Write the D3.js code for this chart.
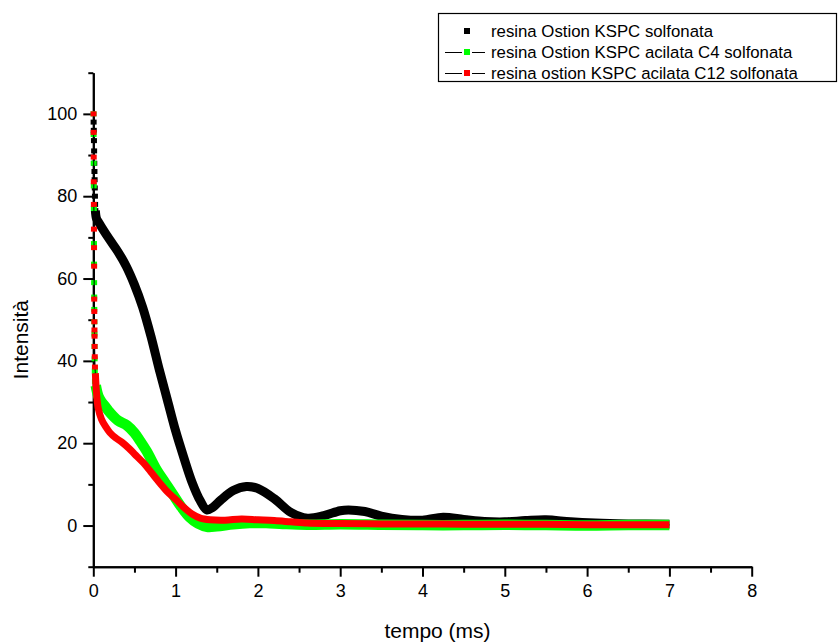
<!DOCTYPE html>
<html>
<head>
<meta charset="utf-8">
<script src="https://cdn.jsdelivr.net/npm/d3@7/dist/d3.min.js"></script>
<style>
  html, body { margin: 0; padding: 0; background: #fff; }
  svg { display: block; font-family: "Liberation Sans", Arial, sans-serif; }
</style>
</head>
<body>
<svg id="chart" width="838" height="643"></svg>
<script>
// Series: time (ms) and intensity
const seriesNames = [
  "resina Ostion KSPC solfonata",
  "resina Ostion KSPC acilata C4 solfonata",
  "resina ostion KSPC acilata C12 solfonata"
];

// initial sharp drop, plotted as separate square markers
const blackSpikeT = [0.004, 0.006, 0.008, 0.010, 0.012, 0.014, 0.016, 0.018, 0.020, 0.022, 0.025];
const blackSpikeV = [98, 96, 93.5, 91, 88, 86, 84, 82, 80, 78, 76.5];
const greenSpikeT = [0.003, 0.004, 0.005, 0.006, 0.007, 0.008, 0.009, 0.010, 0.011, 0.012, 0.013, 0.014, 0.015, 0.016, 0.018, 0.020];
const greenSpikeV = [100, 95, 88, 82.5, 77, 68.5, 63.5, 59, 55.5, 52.5, 49.5, 46.5, 43.5, 40.5, 37.5, 35];
const redSpikeT = [0.003, 0.004, 0.005, 0.006, 0.007, 0.008, 0.009, 0.010, 0.011, 0.012, 0.013, 0.014, 0.015, 0.016, 0.018, 0.020];
const redSpikeV = [100, 95.5, 89.5, 83.5, 78, 72, 67.5, 63, 55, 52, 49.5, 47.5, 46, 43.5, 41, 38.5];

// decay curves after the drop
const blackT = [0.025, 0.04, 0.07, 0.1, 0.2, 0.3, 0.4, 0.5, 0.6, 0.7, 0.8, 0.9, 1.0, 1.1, 1.2, 1.3, 1.38, 1.45, 1.55, 1.7, 1.86, 2.0, 2.2, 2.4, 2.6, 2.8, 3.0, 3.1, 3.3, 3.5, 3.75, 4.0, 4.25, 4.5, 4.75, 5.0, 5.25, 5.5, 5.8, 6.1, 6.5, 7.0];
const blackV = [76.5, 74.5, 73.5, 72.5, 69.4, 66.5, 63, 58.5, 53, 46, 38, 30.5, 23, 16.5, 10.5, 6, 3.8, 4.4, 6.2, 8.5, 9.5, 9.0, 6.5, 3.2, 1.8, 2.4, 3.6, 3.8, 3.4, 2.3, 1.5, 1.3, 2.0, 1.5, 1.0, 0.9, 1.2, 1.4, 0.9, 0.6, 0.4, 0.3];

const greenT = [0.03, 0.06, 0.1, 0.15, 0.2, 0.3, 0.41, 0.5, 0.57, 0.65, 0.77, 0.87, 0.97, 1.07, 1.17, 1.27, 1.38, 1.5, 1.7, 1.9, 2.1, 2.3, 2.6, 3.0, 3.5, 4.0, 4.5, 5.0, 5.5, 6.0, 6.5, 7.0];
const greenV = [34, 31.5, 30, 28.8, 27.5, 25.5, 24.3, 22.5, 20.5, 18, 13.5, 10.5, 7.5, 4.5, 2, 0.5, -0.3, -0.2, 0.3, 0.6, 0.6, 0.4, 0.2, 0.3, 0.2, 0.1, 0.1, 0.2, 0.1, 0.0, 0.1, 0.1];

const redT = [0.025, 0.04, 0.06, 0.1, 0.15, 0.2, 0.27, 0.35, 0.43, 0.5, 0.61, 0.7, 0.81, 0.9, 1.01, 1.1, 1.2, 1.3, 1.42, 1.6, 1.8, 2.0, 2.2, 2.4, 2.6, 2.8, 3.0, 3.5, 4.0, 4.5, 5.0, 5.5, 6.0, 6.5, 7.0];
const redV = [37, 32, 28.5, 25.8, 24, 22.6, 21.3, 20.2, 18.8, 17.4, 15.2, 13, 10.3, 8.2, 6.2, 4.4, 2.8, 1.8, 1.4, 1.3, 1.6, 1.4, 1.2, 0.9, 0.6, 0.5, 0.5, 0.4, 0.4, 0.3, 0.3, 0.3, 0.2, 0.2, 0.2];

const xMajor = [0, 1, 2, 3, 4, 5, 6, 7, 8];
const xMinor = [0.5, 1.5, 2.5, 3.5, 4.5, 5.5, 6.5, 7.5];
const yMajor = [0, 20, 40, 60, 80, 100];
const yMinor = [-10, 10, 30, 50, 70, 90, 110];

const svg = d3.select("#chart");

const x = d3.scaleLinear().domain([0, 8]).range([93.3, 751.7]);
const y = d3.scaleLinear().domain([-10, 110]).range([566.7, 72.7]);

const zip = (ts, vs) => ts.map((t, i) => [t, vs[i]]);

const series = [
  { color: "#000000", width: 9, spike: zip(blackSpikeT, blackSpikeV), curve: zip(blackT, blackV), guide: false },
  { color: "#00ff00", width: 10.5, spike: zip(greenSpikeT, greenSpikeV), curve: zip(greenT, greenV), guide: true },
  { color: "#ff0000", width: 7, spike: zip(redSpikeT, redSpikeV), curve: zip(redT, redV), guide: true }
];

const line = d3.line()
  .x(d => x(d[0]))
  .y(d => y(d[1]))
  .curve(d3.curveCatmullRom.alpha(0.5));

// axes
const axisG = svg.append("g");

const yAxisMinor = d3.axisLeft(y).tickValues(yMinor).tickSize(5).tickSizeOuter(0).tickFormat("");
const yAxisMajor = d3.axisLeft(y).tickValues(yMajor).tickSize(10).tickSizeOuter(0).tickPadding(6);
const xAxisMinor = d3.axisBottom(x).tickValues(xMinor).tickSize(6).tickSizeOuter(0).tickFormat("");
const xAxisMajor = d3.axisBottom(x).tickValues(xMajor).tickSize(10).tickSizeOuter(0).tickPadding(8);

function styleAxis(g) {
  g.selectAll("path.domain").attr("stroke", "#000").attr("stroke-width", 2);
  g.selectAll(".tick line").attr("stroke", "#000").attr("stroke-width", 2);
  g.selectAll(".tick text").attr("fill", "#000").attr("font-size", 18)
    .attr("font-family", "'Liberation Sans', Arial, sans-serif");
}

axisG.append("g").attr("transform", `translate(${x(0)},0)`).call(yAxisMinor).call(styleAxis);
axisG.append("g").attr("transform", `translate(${x(0)},0)`).call(yAxisMajor).call(styleAxis);
axisG.append("g").attr("transform", `translate(0,${y(-10)})`).call(xAxisMinor).call(styleAxis);
axisG.append("g").attr("transform", `translate(0,${y(-10)})`).call(xAxisMajor).call(styleAxis);

// axis titles
svg.append("text")
  .attr("x", x(4) + 15).attr("y", 638)
  .attr("text-anchor", "middle")
  .attr("font-size", 21)
  .text("tempo (ms)");

svg.append("text")
  .attr("transform", `translate(28,${y(50) + 20}) rotate(-90)`)
  .attr("text-anchor", "middle")
  .attr("font-size", 21)
  .text("Intensità");

// data
const plot = svg.append("g");
series.forEach(s => {
  const g = plot.append("g");
  if (s.guide) {
    g.append("path")
      .attr("d", line(s.spike.concat(s.curve)))
      .attr("fill", "none").attr("stroke", "#000").attr("stroke-width", 1);
  }
  g.append("path")
    .attr("d", line(s.curve))
    .attr("fill", "none")
    .attr("stroke", s.color)
    .attr("stroke-width", s.width)
    .attr("stroke-linejoin", "round")
    .attr("stroke-linecap", "butt");
  g.selectAll("rect.spk")
    .data(s.spike)
    .enter().append("rect")
    .attr("class", "spk")
    .attr("x", d => x(d[0]) - 3)
    .attr("y", d => y(d[1]) - 2.5)
    .attr("width", 6).attr("height", 5)
    .attr("fill", s.color);
});

// legend
const legend = svg.append("g");
legend.append("rect")
  .attr("x", 438.5).attr("y", 13.5).attr("width", 398).attr("height", 68)
  .attr("fill", "#fff").attr("stroke", "#000").attr("stroke-width", 1.2);

const rowY = [31, 52, 73];
seriesNames.forEach((name, i) => {
  const gy = rowY[i];
  if (series[i].guide) {
    legend.append("line").attr("x1", 445).attr("x2", 462).attr("y1", gy + 0.5).attr("y2", gy + 0.5)
      .attr("stroke", "#000").attr("stroke-width", 1);
    legend.append("line").attr("x1", 472).attr("x2", 485).attr("y1", gy + 0.5).attr("y2", gy + 0.5)
      .attr("stroke", "#000").attr("stroke-width", 1);
  }
  legend.append("rect")
    .attr("x", 464).attr("y", gy - 3).attr("width", 6).attr("height", 6)
    .attr("fill", series[i].color);
  legend.append("text")
    .attr("x", 491).attr("y", gy + 6)
    .attr("font-size", 16.8)
    .attr("fill", "#000")
    .text(name);
});
</script>
</body>
</html>
